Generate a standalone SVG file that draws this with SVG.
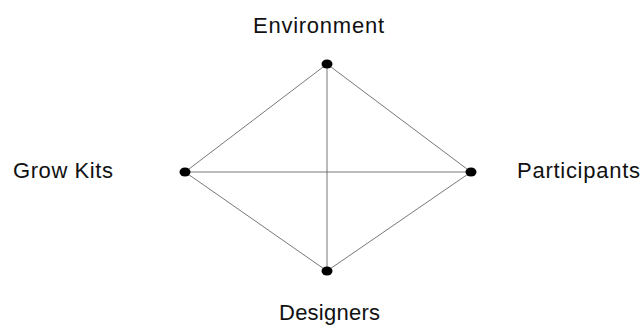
<svg xmlns="http://www.w3.org/2000/svg" width="642" height="325" viewBox="0 0 642 325">
<style>
.edge{stroke:#555;stroke-width:0.8;fill:none}
.dot{fill:#000}
.lbl{font-family:"Liberation Sans",Arial,sans-serif;font-size:22px;fill:#111}
</style>
<rect width="642" height="325" fill="#fff"/>
<g id="connectors">
<line class="edge" x1="327" y1="64" x2="185" y2="172"/>
<line class="edge" x1="327" y1="64" x2="471" y2="172"/>
<line class="edge" x1="327" y1="64" x2="327" y2="271"/>
<line class="edge" x1="185" y1="172" x2="471" y2="172"/>
<line class="edge" x1="185" y1="172" x2="327" y2="271"/>
<line class="edge" x1="471" y1="172" x2="327" y2="271"/>
</g>
<g id="environment"><ellipse class="dot" cx="327" cy="64" rx="5.5" ry="4.5"/><text class="lbl" x="253" y="33" textLength="131" lengthAdjust="spacing">Environment</text></g>
<g id="growkits"><ellipse class="dot" cx="185" cy="172" rx="5.5" ry="4.5"/><text class="lbl" x="13" y="178" textLength="100" lengthAdjust="spacing">Grow Kits</text></g>
<g id="participants"><ellipse class="dot" cx="471" cy="172" rx="5.5" ry="4.5"/><text class="lbl" x="517" y="178" textLength="123" lengthAdjust="spacing">Participants</text></g>
<g id="designers"><ellipse class="dot" cx="327" cy="271" rx="5.5" ry="4.5"/><text class="lbl" x="279" y="320" textLength="101" lengthAdjust="spacing">Designers</text></g>
</svg>
